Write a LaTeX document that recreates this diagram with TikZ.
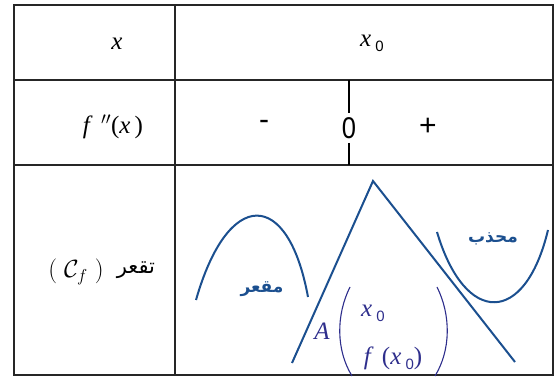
\documentclass[tikz,border=0pt]{standalone}
\usepackage{fontspec}
\setmainfont{Liberation Serif}
\newfontfamily\arabicfont[Script=Arabic]{DejaVu Sans}
\newfontfamily\sansnum{Liberation Sans}
\TeXXeTstate=1
\definecolor{curveblue}{HTML}{1B4F8F}
\definecolor{navyA}{HTML}{2E2E8C}
\newcommand{\subz}{\raisebox{-0.45ex}{\sansnum\fontsize{15}{15}\selectfont 0}}
\begin{document}
\begin{tikzpicture}[x=1pt,y=-1pt,
  grid/.style={line width=1.3pt,draw=black!85},
  curve/.style={line width=2pt,draw=curveblue},
  paren/.style={line width=1.1pt,draw=navyA},
  lbl/.style={inner sep=0pt,font=\fontsize{25}{27}\selectfont},
  sgn/.style={inner sep=0pt,font=\sansnum\fontsize{30}{32}\selectfont},
  arlbl/.style={inner sep=0pt,text=curveblue,font=\arabicfont\bfseries\fontsize{17}{19}\selectfont}]
\useasboundingbox (0,0) rectangle (555,379);
% table
\draw[grid] (14,5) rectangle (553,375);
\draw[grid] (175,5) -- (175,375);
\draw[grid] (14,80) -- (553,80);
\draw[grid] (14,165) -- (553,165);
% row texts
\node[lbl] (hx) at (117,44) {\textit{x}};
\node[lbl] (hx0) at (372,43) {\textit{x}\,\subz};
\node[lbl] (hf) at (113,127) {\textit{f}\,\,$^{\prime\prime}$(\textit{x}\,)};
\node[sgn] (minus) at (264,125) {-};
\node[sgn,xscale=0.85] (zero) at (349,128) {0};
\node[sgn] (plus) at (428,127) {+};
\coordinate (ztop) at (349,80);
\coordinate (zbot) at (349,165);
\draw[line width=1.2pt] (ztop) -- ([yshift=4pt]zero.north);
\draw[line width=1.2pt] ([yshift=-4pt]zero.south) -- (zbot);
\node[lbl] (hcC) at (76,272) {$\Bigl(\;\mathcal{C}_{f}\;\Bigr)$};
\node[lbl,font=\arabicfont\fontsize{21}{23}\selectfont] (hcAr) at (136,270) {\beginR تقعر\endR};
% curves
\draw[curve] (196,300) .. controls (228,188) and (288,188) .. (308,297);
\coordinate (lamL) at (292,363);
\coordinate (lamT) at (373,181);
\coordinate (lamR) at (515,362);
\draw[curve] (lamL) -- (lamT) -- (lamR);
\draw[curve] (437,232) .. controls (465,326) and (525,326) .. (548,230);
% arabic labels
\node[arlbl] (concave) at (262,289) {\beginR مقعر\endR};
\node[arlbl] (convex) at (493,239) {\beginR محذب\endR};
% point A
\node[lbl,text=navyA] (A) at (322,331) {\textit{A}};
\node[lbl,text=navyA] (ax) at (373,313) {\textit{x}\,\subz};
\node[lbl,text=navyA] (af) at (393,358) {\textit{f}\,\,(\textit{x}\,\subz)};
\draw[paren] (350,287) .. controls (336,315) and (336,350) .. (352,376);
\draw[paren] (437,287) .. controls (451,315) and (451,350) .. (435,376);
\end{tikzpicture}
\end{document}
